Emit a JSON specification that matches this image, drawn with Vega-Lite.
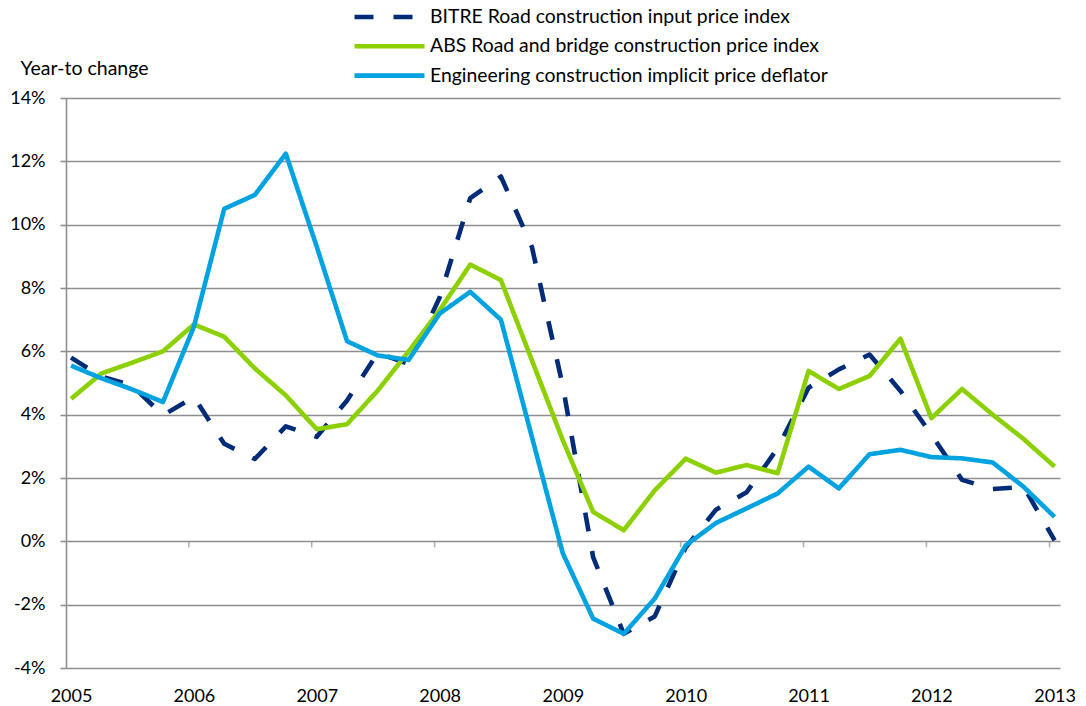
{
  "$schema": "https://vega.github.io/schema/vega-lite/v6.json",
  "autosize": {"type": "none"},
  "padding": {"left": 66, "top": 98, "right": 26, "bottom": 38},
  "width": 994,
  "height": 570,
  "background": "white",
  "datasets": {
    "series": [
      {"date": "2005-01-16", "BITRE": 5.8, "ABS": 4.5, "Engineering": 5.55},
      {"date": "2005-04-16", "BITRE": 5.2, "ABS": 5.3, "Engineering": 5.15},
      {"date": "2005-07-16", "BITRE": 4.93, "ABS": 5.64, "Engineering": 4.8},
      {"date": "2005-10-16", "BITRE": 3.98, "ABS": 6.0, "Engineering": 4.4},
      {"date": "2006-01-16", "BITRE": 4.56, "ABS": 6.85, "Engineering": 6.78},
      {"date": "2006-04-16", "BITRE": 3.08, "ABS": 6.46, "Engineering": 10.5},
      {"date": "2006-07-16", "BITRE": 2.6, "ABS": 5.46, "Engineering": 10.94},
      {"date": "2006-10-16", "BITRE": 3.63, "ABS": 4.61, "Engineering": 12.24},
      {"date": "2007-01-16", "BITRE": 3.3, "ABS": 3.54, "Engineering": 9.3},
      {"date": "2007-04-16", "BITRE": 4.45, "ABS": 3.7, "Engineering": 6.32},
      {"date": "2007-07-16", "BITRE": 5.95, "ABS": 4.76, "Engineering": 5.87},
      {"date": "2007-10-16", "BITRE": 5.6, "ABS": 6.0, "Engineering": 5.73},
      {"date": "2008-01-16", "BITRE": 7.7, "ABS": 7.3, "Engineering": 7.19},
      {"date": "2008-04-16", "BITRE": 10.84, "ABS": 8.74, "Engineering": 7.88},
      {"date": "2008-07-16", "BITRE": 11.52, "ABS": 8.25, "Engineering": 7.0},
      {"date": "2008-10-16", "BITRE": 9.3, "ABS": 5.72, "Engineering": 3.3},
      {"date": "2009-01-16", "BITRE": 4.9, "ABS": 3.19, "Engineering": -0.38},
      {"date": "2009-04-16", "BITRE": -0.5, "ABS": 0.93, "Engineering": -2.44},
      {"date": "2009-07-16", "BITRE": -2.92, "ABS": 0.35, "Engineering": -2.92},
      {"date": "2009-10-16", "BITRE": -2.37, "ABS": 1.61, "Engineering": -1.81},
      {"date": "2010-01-16", "BITRE": -0.2, "ABS": 2.61, "Engineering": -0.13},
      {"date": "2010-04-16", "BITRE": 1.0, "ABS": 2.17, "Engineering": 0.58},
      {"date": "2010-07-16", "BITRE": 1.55, "ABS": 2.41, "Engineering": 1.04},
      {"date": "2010-10-16", "BITRE": 2.94, "ABS": 2.15, "Engineering": 1.51},
      {"date": "2011-01-16", "BITRE": 4.85, "ABS": 5.38, "Engineering": 2.36},
      {"date": "2011-04-16", "BITRE": 5.43, "ABS": 4.81, "Engineering": 1.67},
      {"date": "2011-07-16", "BITRE": 5.9, "ABS": 5.22, "Engineering": 2.75},
      {"date": "2011-10-16", "BITRE": 4.75, "ABS": 6.4, "Engineering": 2.89},
      {"date": "2012-01-16", "BITRE": 3.37, "ABS": 3.89, "Engineering": 2.66},
      {"date": "2012-04-16", "BITRE": 1.94, "ABS": 4.81, "Engineering": 2.62},
      {"date": "2012-07-16", "BITRE": 1.65, "ABS": 4.0, "Engineering": 2.49},
      {"date": "2012-10-16", "BITRE": 1.72, "ABS": 3.23, "Engineering": 1.72},
      {"date": "2013-01-16", "BITRE": 0.03, "ABS": 2.36, "Engineering": 0.77}
    ],
    "yearTicks": [
      {"date": "2006-01-01"}, {"date": "2007-01-01"}, {"date": "2008-01-01"},
      {"date": "2009-01-01"}, {"date": "2010-01-01"}, {"date": "2011-01-01"},
      {"date": "2012-01-01"}, {"date": "2013-01-01"}
    ]
  },
  "encoding": {
    "x": {
      "field": "date",
      "type": "temporal",
      "scale": {
        "type": "utc",
        "domain": [
          {"year": 2005, "month": 1, "date": 1, "utc": true},
          {"year": 2013, "month": 2, "date": 1, "utc": true}
        ]
      },
      "axis": {
        "values": [
          {"year": 2005, "month": 1, "date": 16, "utc": true},
          {"year": 2006, "month": 1, "date": 16, "utc": true},
          {"year": 2007, "month": 1, "date": 16, "utc": true},
          {"year": 2008, "month": 1, "date": 16, "utc": true},
          {"year": 2009, "month": 1, "date": 16, "utc": true},
          {"year": 2010, "month": 1, "date": 16, "utc": true},
          {"year": 2011, "month": 1, "date": 16, "utc": true},
          {"year": 2012, "month": 1, "date": 16, "utc": true},
          {"year": 2013, "month": 1, "date": 16, "utc": true}
        ],
        "labelExpr": "utcFormat(datum.value, '%Y')",
        "title": null,
        "grid": false,
        "ticks": false,
        "domain": false,
        "labelFlush": false,
        "labelOverlap": false,
        "labelPadding": 19,
        "labelFont": "Lato",
        "labelFontSize": 18,
        "labelColor": "#000000"
      }
    }
  },
  "layer": [
    {
      "data": {"name": "series"},
      "transform": [
        {"fold": ["BITRE", "ABS", "Engineering"], "as": ["series", "value"]}
      ],
      "mark": {
        "type": "line",
        "strokeWidth": 4.6,
        "strokeJoin": "round",
        "strokeCap": "butt"
      },
      "encoding": {
        "y": {
          "field": "value",
          "type": "quantitative",
          "scale": {"domain": [-4, 14], "nice": false, "zero": false},
          "axis": {
            "values": [-4, -2, 0, 2, 4, 6, 8, 10, 12, 14],
            "labelExpr": "datum.value + '%'",
            "grid": true,
            "gridColor": "#8e8e8e",
            "gridWidth": 1.6,
            "domainColor": "#8e8e8e",
            "domainWidth": 1.6,
            "tickColor": "#8e8e8e",
            "tickWidth": 1.6,
            "tickSize": 6,
            "labelPadding": 15,
            "labelFont": "Lato",
            "labelFontSize": 18,
            "labelColor": "#000000",
            "title": "Year-to change",
            "titleAngle": 0,
            "titleAlign": "left",
            "titleBaseline": "middle",
            "titleX": -46,
            "titleY": -30,
            "titleFont": "Lato",
            "titleFontSize": 19.5,
            "titleFontWeight": "normal",
            "titleColor": "#000000"
          }
        },
        "color": {
          "field": "series",
          "type": "nominal",
          "scale": {
            "domain": ["BITRE", "ABS", "Engineering"],
            "range": ["#002B77", "#8DD000", "#00A3DF"]
          },
          "legend": {
            "title": null,
            "labelExpr": "datum.label == 'BITRE' ? 'BITRE Road construction input price index' : datum.label == 'ABS' ? 'ABS Road and bridge construction price index' : 'Engineering construction implicit price deflator'"
          }
        },
        "strokeDash": {
          "field": "series",
          "type": "nominal",
          "scale": {
            "domain": ["BITRE", "ABS", "Engineering"],
            "range": [[19, 20], [1, 0], [1, 0]]
          },
          "legend": {
            "title": null,
            "labelExpr": "datum.label == 'BITRE' ? 'BITRE Road construction input price index' : datum.label == 'ABS' ? 'ABS Road and bridge construction price index' : 'Engineering construction implicit price deflator'"
          }
        }
      }
    },
    {
      "data": {"name": "yearTicks"},
      "mark": {
        "type": "tick",
        "orient": "vertical",
        "size": 6,
        "thickness": 1.6,
        "color": "#8e8e8e",
        "yOffset": 3
      },
      "encoding": {
        "y": {"datum": 0, "type": "quantitative"}
      }
    }
  ],
  "config": {
    "view": {"stroke": null},
    "font": "Lato",
    "legend": {
      "orient": "none",
      "legendX": 286,
      "legendY": -91,
      "direction": "vertical",
      "symbolType": "stroke",
      "symbolSize": 4900,
      "symbolStrokeWidth": 4.6,
      "clipHeight": 20,
      "rowPadding": 9.3,
      "labelOffset": 3,
      "labelFont": "Lato",
      "labelFontSize": 19.4,
      "labelColor": "#000000",
      "labelLimit": 1000,
      "padding": 0,
      "symbolOffset": 0
    }
  }
}
